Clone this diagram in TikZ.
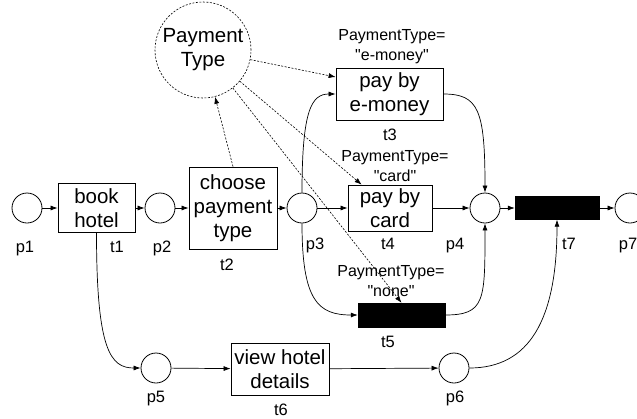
\documentclass[tikz,border=0pt]{standalone}
\usepackage{fontspec}
\newfontfamily\arial{Liberation Sans}
\usetikzlibrary{arrows.meta,calc}
\begin{document}
\begin{tikzpicture}[x=1pt,y=-1pt,
  every node/.style={font=\arial\fontsize{20.5}{24}\selectfont, inner sep=0pt},
  place/.style={draw, circle, minimum size=30pt, line width=0.8pt},
  trans/.style={draw, rectangle, line width=0.8pt, align=center},
  bar/.style={draw, fill=black, rectangle},
  lbl/.style={font=\arial\fontsize{16.5}{19}\selectfont, anchor=base},
  cond/.style={font=\arial\fontsize{16}{20}\selectfont, align=center},
  arc/.style={line width=0.7pt, -{Latex[length=7pt,width=5pt]}},
  darc/.style={arc, dash pattern=on 2pt off 1.5pt, line width=0.6pt}]
\useasboundingbox (0,0) rectangle (637,418);
% places and transitions
\node[place] (p1) at (27,208) {};
\node[trans, minimum width=77pt, minimum height=49pt] (t1) at (96.5,208) {book\\hotel};
\node[place] (p2) at (160,208) {};
\node[trans, minimum width=88pt, minimum height=82pt] (t2) at (233,208) {choose\\payment\\type};
\node[place] (p3) at (302,208) {};
\node[trans, minimum width=107pt, minimum height=52pt] (t3) at (389.5,94) {pay by\\e-money};
\node[trans, minimum width=84pt, minimum height=46pt] (t4) at (390,208) {pay by\\card};
\node[bar, minimum width=87pt, minimum height=24pt] (t5) at (401.5,315) {};
\node[place] (p4) at (485,208) {};
\node[bar, minimum width=84pt, minimum height=23pt] (t7) at (557,208) {};
\node[place] (p7) at (630,208) {};
\node[place] (p5) at (156,368) {};
\node[trans, minimum width=98pt, minimum height=52pt] (t6) at (280,369) {view hotel\\details};
\node[place] (p6) at (454,368) {};
\node[draw, circle, dash pattern=on 2pt off 1.5pt, line width=0.6pt, minimum size=96pt, align=center] (PT) at (203,50) {Payment\\Type};
% labels
\node[lbl] (lp1) at (25,252) {p1};
\node[lbl] (lt1) at (117,252) {t1};
\node[lbl] (lp2) at (162,252) {p2};
\node[lbl] (lt2) at (227,270) {t2};
\node[lbl] (lp3) at (315,249) {p3};
\node[lbl] (lt3) at (390,140) {t3};
\node[lbl] (lt4) at (388,249) {t4};
\node[lbl] (lp4) at (455,249) {p4};
\node[lbl] (lt7) at (569,249) {t7};
\node[lbl] (lp7) at (628,249) {p7};
\node[lbl] (lt5) at (388,347) {t5};
\node[lbl] (lp5) at (156,402) {p5};
\node[lbl] (lt6) at (281,415) {t6};
\node[lbl] (lp6) at (455,402) {p6};
% guard conditions
\node[cond] (c3) at (392,47) {PaymentType=\\"e-money"};
\node[cond] (c4) at (395,166) {PaymentType=\\"card"};
\node[cond] (c5) at (391,281) {PaymentType=\\"none"};
% straight arcs
\draw[arc] (p1) -- (t1);
\draw[arc] (t1) -- (p2);
\draw[arc] (p2) -- (t2);
\draw[arc] (t2) -- (p3);
\draw[arc] (p3) -- (t4);
\draw[arc] (t4) -- (p4);
\draw[arc] (p4) -- (t7);
\draw[arc] (t7) -- (p7);
\draw[arc] (p5) -- (t6);
\draw[arc] (t6) -- (p6);
% curved arcs
\draw[arc] (p3.north) .. controls +(0,-83) and +(-24,0) .. (t3.west);
\draw[arc] (p3.south) .. controls +(0,77) and +(-40,0) .. (t5.west);
\draw[arc] (t3.east) .. controls +(35,0) and +(0,-83) .. (p4.north);
\draw[arc] (t5.east) .. controls +(40,0) and +(0,77) .. (p4.south);
\draw[arc] (t1.south) .. controls +(0,118) and +(-30,0) .. (p5.west);
\draw[arc] (p6.east) .. controls +(60,0) and +(0,100) .. (t7.south);
% data arcs
\draw[darc] (t2.north) -- (PT);
\draw[darc] (PT) -- ([yshift=17pt]t3.west);
\draw[darc] (PT) -- ([xshift=14pt]t4.north west);
\draw[darc] (PT) -- (t5.north);
\end{tikzpicture}
\end{document}
